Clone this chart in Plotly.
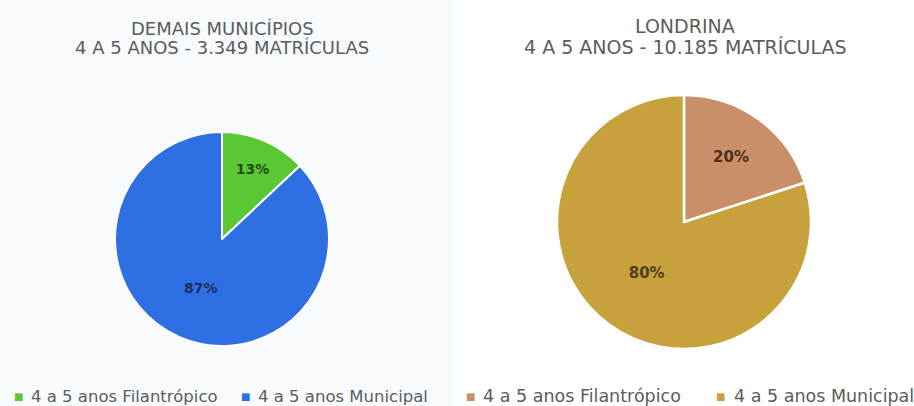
import plotly.graph_objects as go

# Data
labels = ["4 a 5 anos Filantrópico", "4 a 5 anos Municipal"]
demais_values = [435, 2914]      # 3.349 matrículas (13% / 87%)
londrina_values = [2037, 8148]   # 10.185 matrículas (20% / 80%)
demais_title = ["DEMAIS MUNICÍPIOS", "4 A 5 ANOS - 3.349 MATRÍCULAS"]
londrina_title = ["LONDRINA", "4 A 5 ANOS - 10.185 MATRÍCULAS"]

demais_colors = ["#5cc735", "#2f6fe4"]
londrina_colors = ["#c98f68", "#c7a23c"]
demais_text_colors = ["#1f4d15", "#1c2f63"]
londrina_text_colors = ["#4f2e1c", "#4f4116"]

W, H = 914, 406
FONT = "DejaVu Sans"
GREY = "#5c5c5c"

fig = go.Figure()

fig.add_trace(go.Pie(
    labels=labels, values=demais_values, sort=False, direction="clockwise", rotation=0,
    marker=dict(colors=demais_colors, line=dict(color="white", width=2)),
    textinfo="percent", texttemplate="%{percent:.0%}",
    textposition="inside", insidetextorientation="horizontal",
    insidetextfont=dict(color=demais_text_colors, size=14, family=FONT, weight="bold"),
    domain=dict(x=[0.1258, 0.3600], y=[0.1478, 0.6749]),
    hoverinfo="skip", showlegend=False,
))

fig.add_trace(go.Pie(
    labels=labels, values=londrina_values, sort=False, direction="clockwise", rotation=0,
    marker=dict(colors=londrina_colors, line=dict(color="white", width=2.5)),
    textinfo="percent", texttemplate="%{percent:.0%}",
    textposition="inside", insidetextorientation="horizontal",
    insidetextfont=dict(color=londrina_text_colors, size=15, family=FONT, weight="bold"),
    domain=dict(x=[0.6094, 0.8873], y=[0.1404, 0.7660]),
    hoverinfo="skip", showlegend=False,
))

annotations = []


def add_text(text, x_px, y_px, size, color=GREY, xanchor="center"):
    annotations.append(dict(
        text=text, x=x_px / W, y=1 - y_px / H, xref="paper", yref="paper",
        xanchor=xanchor, yanchor="middle", showarrow=False,
        font=dict(size=size, color=color, family=FONT)))


# Titles
add_text(demais_title[0], 222, 28, 18)
add_text(demais_title[1], 222, 47, 18)
add_text(londrina_title[0], 685, 26, 19)
add_text(londrina_title[1], 685, 47, 19)

# Legends (marker square + label)
legend_items = [
    (labels[0], demais_colors[0], 18, 29, 16.5),
    (labels[1], demais_colors[1], 245, 256, 16.5),
    (labels[0], londrina_colors[0], 470, 481, 17.5),
    (labels[1], londrina_colors[1], 720, 732, 17.5),
]
for text, color, sx, tx, size in legend_items:
    add_text("■", sx, 396, 10, color=color)
    add_text(text, tx, 396, size, xanchor="left")

fig.update_layout(
    width=W, height=H,
    margin=dict(l=0, r=0, t=0, b=0),
    paper_bgcolor="white",
    font=dict(family=FONT, color=GREY),
    showlegend=False,
    shapes=[dict(type="rect", xref="paper", yref="paper", x0=0, x1=455 / W, y0=0, y1=1,
                 fillcolor="#f8fbfd", line=dict(width=0), layer="below")],
    annotations=annotations,
)

fig.write_html("out.html", config={"displayModeBar": False},
               post_script="document.body.style.margin='0';")
